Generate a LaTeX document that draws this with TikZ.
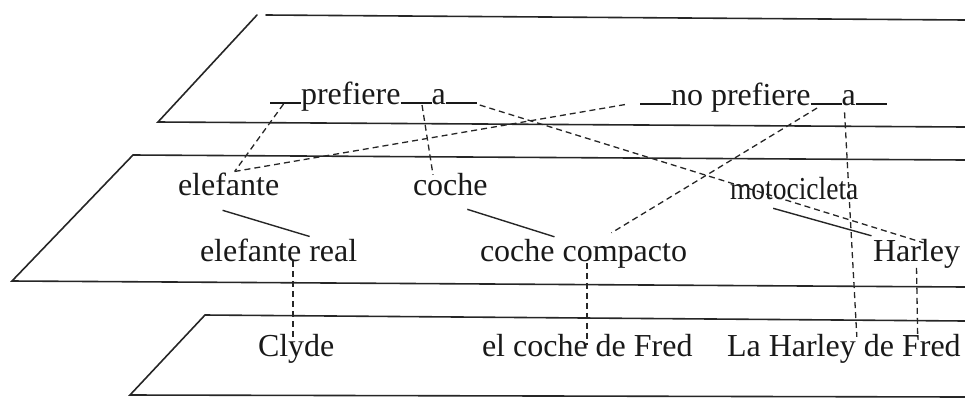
\documentclass[tikz,border=0pt]{standalone}
\usepackage{graphicx}
\usepackage{fontspec}
\setmainfont{Liberation Serif}
\usetikzlibrary{calc}
% an empty argument slot in a relation name
\newcommand\slot{\rule{0.97em}{0.06em}}
\begin{document}
\begin{tikzpicture}[x=1pt,y=-1pt,
  plane/.style={line width=1.6pt, line cap=round, draw=black!85},
  word/.style={font=\fontsize{32}{38}\selectfont, text=black!90, inner sep=0pt, outer sep=0pt, anchor=base west},
  isa/.style={line width=1.4pt, draw=black!85},
  link/.style={line width=1.3pt, draw=black!85, dash pattern=on 6pt off 4pt}]
\useasboundingbox (0,0) rectangle (965,397);

% the three levels
\draw[plane] (257,15) -- (158,122) -- (965,127);
\draw[plane] (266,15) -- (965,20);
\draw[plane] (965,160) -- (133,155) -- (12,281) -- (965,287);
\draw[plane] (965,321) -- (205,315) -- (130,395) -- (965,397);

% relations
\node[word] (pb1) at (270,104) {\slot};
\node[word] (pv) at (pb1.base east) {prefiere};
\node[word] (pb2) at (pv.base east) {\slot};
\node[word] (pa) at (pb2.base east) {a};
\node[word] (pb3) at (pa.base east) {\slot};

\node[word] (nb1) at (640,105) {\slot};
\node[word] (nv) at (nb1.base east) {no prefiere};
\node[word] (nb2) at (nv.base east) {\slot};
\node[word] (na) at (nb2.base east) {a};
\node[word] (nb3) at (na.base east) {\slot};

% classes
\node[word] (elef) at (178,195) {elefante};
\node[word] (coche) at (413,195) {coche};
\node[word] (moto) at (730,199) {\scalebox{0.86}[1]{motocicleta}};
\node[word] (er) at (200,261) {elefante real};
\node[word] (cc) at (480,261) {coche compacto};
\node[word] (harley) at (873,261) {Harley};

% individuals
\node[word] (clyde) at (258,356) {Clyde};
\node[word] (ecf) at (482,356) {el coche de Fred};
\node[word] (lhf) at (727,356) {La Harley de Fred};

% argument links
\coordinate (elefTop) at ($(elef.north)+(6,-1)$);
\draw[link] ($(pb1.center)+(-2,1)$) -- (elefTop);
\draw[link] (elefTop) -- ($(nb1.west)+(-12,0)$);
\draw[link] ($(pb2.center)+(6,2)$) -- ($(coche.north west)+(20,2)$);
\draw[link] ($(pb3.east)+(3,2)$) -- ($(harley.north)+(7,4)$);
\draw[link] ($(nb2.center)+(-9,4)$) -- ($(cc.north)+(28,-6)$);
\draw[link] ($(na.south west)+(3,7)$) -- ($(lhf.north)+(13,3)$);

% instance links
\draw[link] (harley.south) -- ($(lhf.north east)+(-43,3)$);
\draw[link] ($(er.south west)+(93,0)$) -- ($(clyde.north west)+(35,6)$);
\draw[link] ($(cc.south west)+(107,-5)$) -- ($(ecf.north west)+(105,11)$);

% subclass links
\draw[isa] ($(elef.south)+(-6,15)$) -- ($(er.north)+(31,-2)$);
\draw[isa] ($(coche.south)+(17,14)$) -- ($(cc.north)+(-29,-2)$);
\draw[isa] ($(moto.south)+(-21,9)$) -- ($(harley.north)+(-45,-3)$);
\end{tikzpicture}
\end{document}
